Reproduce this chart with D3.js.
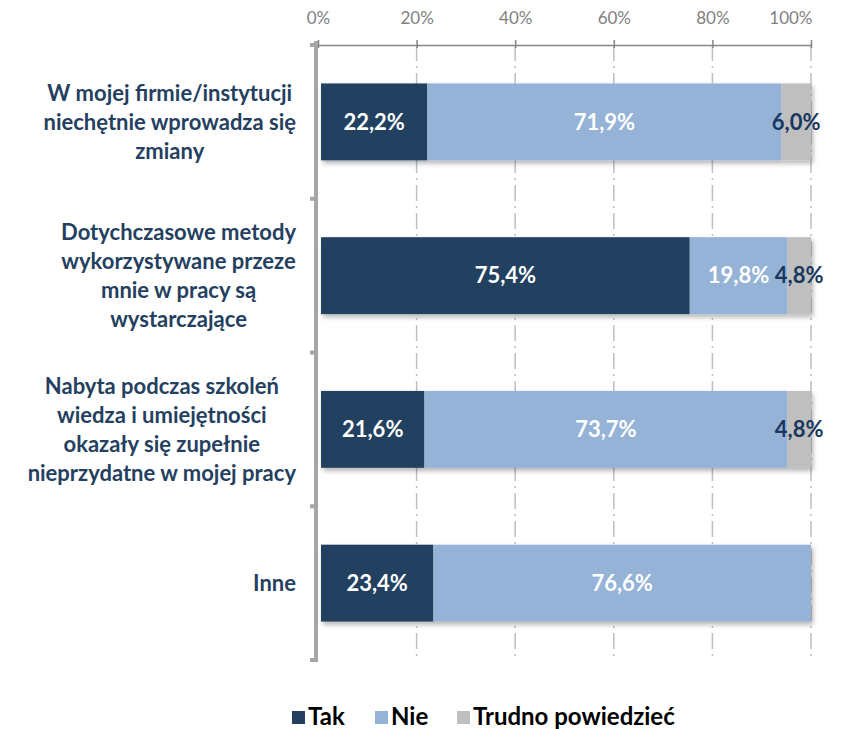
<!DOCTYPE html>
<html>
<head>
<meta charset="utf-8">
<script src="https://cdn.jsdelivr.net/npm/d3@7"></script>
<style>
  body { margin: 0; background: #fff; }
  svg text { font-family: Lato, Carlito, Calibri, sans-serif; }
</style>
</head>
<body>
<div id="chart"></div>
<script>
// data
var categories = [
  ["W mojej firmie/instytucji", "niechętnie wprowadza się", "zmiany"],
  ["Dotychczasowe metody", "wykorzystywane przeze", "mnie w pracy są", "wystarczające"],
  ["Nabyta podczas szkoleń", "wiedza i umiejętności", "okazały się zupełnie", "nieprzydatne w mojej pracy"],
  ["Inne"]
];
var seriesNames = ["Tak", "Nie", "Trudno powiedzieć"];
var tak = [22.2, 75.4, 21.6, 23.4];
var nie = [71.9, 19.8, 73.7, 76.6];
var trudno = [6.0, 4.8, 4.8, 0];
var xTicks = [0, 20, 40, 60, 80, 100];
var colors = ["#243F60", "#95B3D7", "#BFBFBF"];
var labelColors = ["#ffffff", "#ffffff", "#17375E"];

var W = 842, H = 729;
var margin = { top: 45, left: 318, right: 31, bottom: 69 };
var width = W - margin.left - margin.right;
var height = H - margin.top - margin.bottom;

var svg = d3.select("#chart").append("svg")
  .attr("width", W).attr("height", H);

var defs = svg.append("defs");
var f = defs.append("filter").attr("id", "shadow")
  .attr("x", "-5%").attr("y", "-20%").attr("width", "115%").attr("height", "150%");
f.append("feDropShadow").attr("dx", 2).attr("dy", 3).attr("stdDeviation", 2.5)
  .attr("flood-color", "#000").attr("flood-opacity", 0.3);

var g = svg.append("g").attr("transform", "translate(" + margin.left + "," + margin.top + ")");

var x = d3.scaleLinear().domain([0, 100]).range([0, width]);
var y = d3.scaleBand().domain(d3.range(categories.length)).range([0, height]).paddingInner(0.5).paddingOuter(0.25);

// gridlines (dash-dot)
g.append("g").selectAll("line")
  .data(xTicks.slice(1))
  .enter().append("line")
  .attr("x1", d => x(d)).attr("x2", d => x(d))
  .attr("y1", 0).attr("y2", height)
  .attr("stroke", "#BFBFBF").attr("stroke-width", 1.5)
  .attr("stroke-dasharray", "16,5,2,5");

// top axis
var xAxis = g.append("g")
  .call(d3.axisTop(x).tickValues(xTicks).tickFormat(d => d + "%").tickSize(5).tickSizeOuter(0));
xAxis.select(".domain").attr("stroke", "#868686").attr("stroke-width", 1.5);
xAxis.selectAll(".tick line").attr("stroke", "#868686").attr("stroke-width", 1.5).attr("y2", -5).attr("y1", 3);
xAxis.selectAll(".tick text").attr("fill", "#7F7F7F").attr("font-size", 17).attr("y", -21)
  .style("font-family", "Lato, Carlito, sans-serif");
// last label is pulled inside the frame, as in the original
xAxis.selectAll(".tick text").filter(d => d === 100).attr("text-anchor", "end").attr("x", 1);

// stacked bars
var rows = categories.map(function (c, i) {
  var vals = [tak[i], nie[i], trudno[i]];
  var total = d3.sum(vals);
  var acc = 0;
  return vals.map(function (v, k) {
    var s = { row: i, k: k, v: v, x0: acc / total * 100, x1: (acc + v) / total * 100 };
    acc += v;
    return s;
  });
});

var pad = 3; // bars start just right of the thick axis
var barG = g.selectAll(".bar").data(rows).enter().append("g")
  .attr("class", "bar").attr("filter", "url(#shadow)");
barG.selectAll("rect").data(d => d.filter(s => s.v > 0)).enter().append("rect")
  .attr("x", d => d.x0 === 0 ? x(0) + pad : x(d.x0))
  .attr("width", d => x(d.x1) - x(d.x0) - (d.x0 === 0 ? pad : 0))
  .attr("y", d => y(d.row))
  .attr("height", y.bandwidth())
  .attr("fill", d => colors[d.k]);

// data labels
g.selectAll(".lbl").data(rows.flat().filter(s => s.v > 0)).enter().append("text")
  .attr("x", d => x((d.x0 + d.x1) / 2) + (d.x0 === 0 ? pad / 2 : 0))
  .attr("y", d => y(d.row) + y.bandwidth() / 2)
  .attr("dy", "0.35em")
  .attr("text-anchor", "middle")
  .attr("font-weight", "bold")
  .attr("font-size", 22)
  .attr("fill", d => labelColors[d.k])
  .text(d => d.v.toFixed(1).replace(".", ",") + "%");

// left axis (thick gray) with category separators
var ySep = d3.range(categories.length + 1).map(i => i * height / categories.length);
g.append("line").attr("x1", -2).attr("x2", -2).attr("y1", -4).attr("y2", height + 2)
  .attr("stroke", "#A6A6A6").attr("stroke-width", 4);
g.append("g").selectAll("line").data(ySep).enter().append("line")
  .attr("x1", -8).attr("x2", -2).attr("y1", d => d).attr("y2", d => d)
  .attr("stroke", "#A6A6A6").attr("stroke-width", 4);

// category labels
var lineH = 29;
categories.forEach(function (lines, i) {
  var t = g.append("text")
    .attr("font-weight", "bold").attr("font-size", 22).attr("fill", "#243F60")
    .attr("text-anchor", "middle");
  var cy = y(i) + y.bandwidth() / 2;
  lines.forEach(function (l, j) {
    t.append("tspan").attr("y", cy + (j - (lines.length - 1) / 2) * lineH).attr("dy", "0.35em").text(l);
  });
  var maxW = d3.max(t.selectAll("tspan").nodes(), n => n.getComputedTextLength());
  t.selectAll("tspan").attr("x", -22 - maxW / 2);
});

// legend
var legX = [292, 375, 457];
var leg = svg.append("g").attr("transform", "translate(0,717)");
seriesNames.forEach(function (s, i) {
  leg.append("rect").attr("x", legX[i]).attr("y", -6).attr("width", 13).attr("height", 13).attr("fill", colors[i]);
  leg.append("text").attr("x", legX[i] + 16).attr("y", 0).attr("dy", "0.35em")
    .attr("font-weight", "bold").attr("font-size", 24).attr("fill", "#000").text(s);
});
</script>
</body>
</html>
